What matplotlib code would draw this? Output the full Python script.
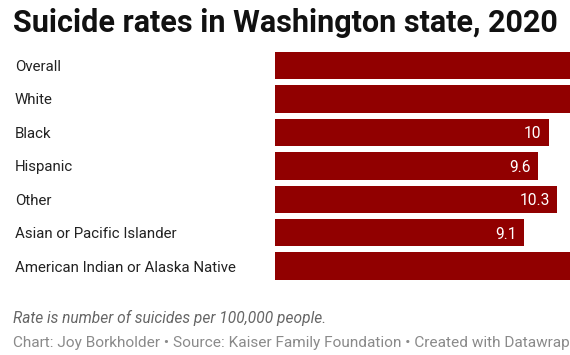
import matplotlib
matplotlib.use("Agg")
import matplotlib.pyplot as plt
import matplotlib.transforms as mtransforms

plt.rcParams['font.family'] = ['Roboto', 'DejaVu Sans']

# data
groups = ["Overall", "White", "Black", "Hispanic", "Other",
          "Asian or Pacific Islander", "American Indian or Alaska Native"]
rates = [15.3, 17.5, 10, 9.6, 10.3, 9.1, 24.3]

BAR = "#910000"
W, H = 570, 355

fig = plt.figure(figsize=(W / 100, H / 100), dpi=100)
# right part of the chart is cropped in the original, so the axes run to the edge
ax = fig.add_axes([275 / W, 1 - 282.8 / H, 295 / W, 234 / H])
ax.barh(range(len(groups)), rates, height=0.82, color=BAR)
xmax = 295 / 27.35
ax.set_xlim(0, xmax)
ax.set_ylim(len(groups) - 0.5, -0.5)
ax.axis("off")

trans = mtransforms.blended_transform_factory(fig.transFigure, ax.transData)
for i, (g, r) in enumerate(zip(groups, rates)):
    ax.text(15 / W, i, g, transform=trans, ha="left", va="center_baseline",
            fontsize=10.8, color="#222222")
    # labels of the bars running past the crop are not visible
    if r <= xmax:
        ax.annotate(f"{r:g}", (r, i), xytext=(-5, 0), textcoords="offset points",
                    ha="right", va="center_baseline", fontsize=11.2, color="white")

fig.text(13 / W, 1 - 32 / H, "Suicide rates in Washington state, 2020",
         fontsize=22, fontweight="bold", color="#111111", va="baseline")
fig.text(13 / W, 1 - 318 / H, "Rate is number of suicides per 100,000 people.",
         fontsize=11.2, style="italic", color="#666666", va="center")
fig.text(13 / W, 1 - 343 / H,
         "Chart: Joy Borkholder \u2022 Source: Kaiser Family Foundation \u2022 Created with Datawrap",
         fontsize=11.1, color="#8a8a8a", va="center")

fig.savefig("out.png", dpi=100)
